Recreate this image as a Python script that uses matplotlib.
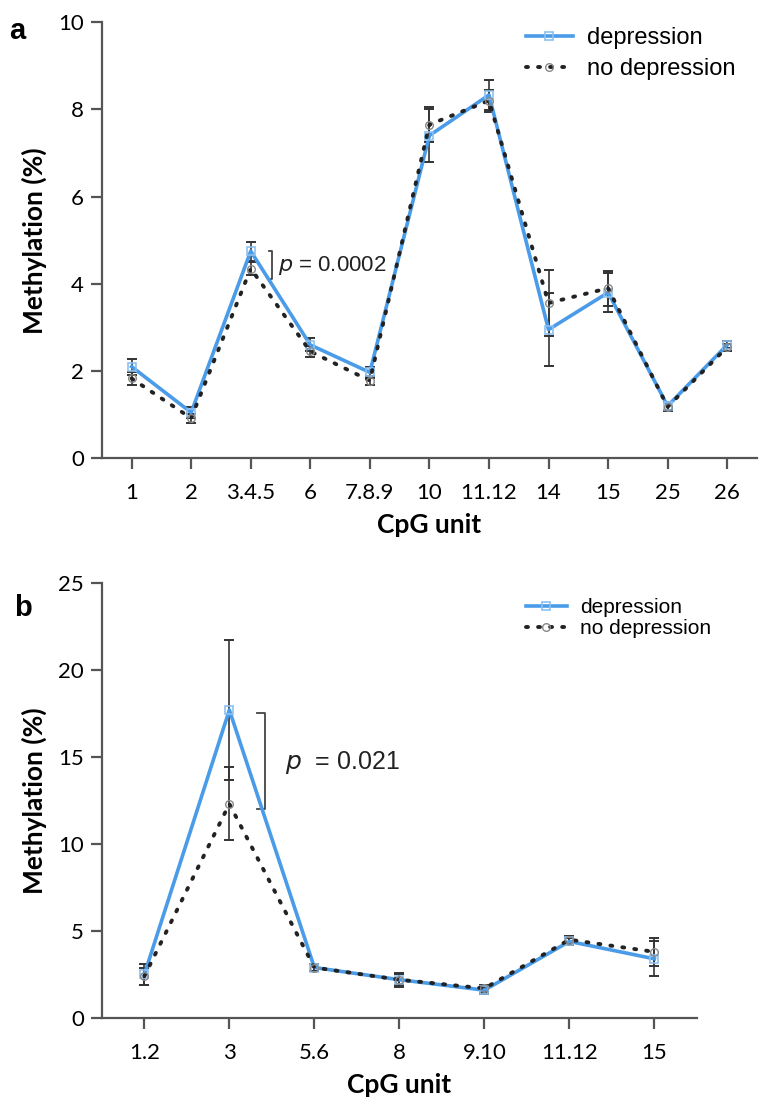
import matplotlib
matplotlib.use("Agg")
import matplotlib.pyplot as plt
import numpy as np

# Panel a data
cpg_a = ["1", "2", "3.4.5", "6", "7.8.9", "10", "11.12", "14", "15", "25", "26"]
dep_a = [2.1, 1.05, 4.75, 2.6, 1.97, 7.4, 8.33, 2.95, 3.8, 1.2, 2.6]
dep_a_err = [0.18, 0.12, 0.22, 0.15, 0.12, 0.6, 0.35, 0.83, 0.45, 0.1, 0.08]
nodep_a = [1.83, 0.92, 4.35, 2.45, 1.78, 7.65, 8.2, 3.56, 3.9, 1.18, 2.55]
nodep_a_err = [0.15, 0.1, 0.15, 0.12, 0.1, 0.4, 0.25, 0.75, 0.4, 0.1, 0.08]

# Panel b data
cpg_b = ["1.2", "3", "5.6", "8", "9.10", "11.12", "15"]
dep_b = [2.5, 17.7, 2.9, 2.2, 1.6, 4.4, 3.4]
dep_b_err = [0.6, 4.0, 0.2, 0.4, 0.2, 0.2, 1.0]
nodep_b = [2.4, 12.3, 2.9, 2.2, 1.7, 4.5, 3.8]
nodep_b_err = [0.5, 2.1, 0.2, 0.3, 0.2, 0.2, 0.8]

BLUE = "#4a9be8"
SPINE = "#555555"
TICKFONT = "Lato"
TXTFONT = "Liberation Sans"

fig = plt.figure(figsize=(7.6, 11.07), dpi=100)

def panel(ax, cats, dep, dep_err, nodep, nodep_err, ylim, yticks, leg_fs, leg_loc, leg_sp):
    x = np.arange(len(cats))
    ax.errorbar(x, nodep, yerr=nodep_err, fmt="none", ecolor="#333333",
                elinewidth=1.2, capsize=3.5, capthick=1.4, zorder=2)
    ax.errorbar(x, dep, yerr=dep_err, fmt="none", ecolor="#333333",
                elinewidth=1.2, capsize=3.5, capthick=1.4, zorder=2)
    ax.plot(x, dep, color=BLUE, lw=2.6, marker="s", ms=6, mfc="none",
            mec="#8cc0f0", mew=1.2, label="depression", zorder=3)
    ax.plot(x, nodep, color="#222222", lw=2.8, ls=(0, (0.5, 2.6)),
            dash_capstyle="round", marker="o", ms=5.5, mfc="none",
            mec="#888888", mew=1.0, label="no depression", zorder=4)
    ax.set_xlim(-0.5, len(cats) - 0.5)
    ax.set_ylim(*ylim)
    ax.set_xticks(x)
    ax.set_xticklabels(cats, fontfamily=TICKFONT, fontsize=16)
    ax.set_yticks(yticks)
    ax.set_yticklabels([str(t) for t in yticks], fontfamily=TICKFONT, fontsize=16)
    for s in ["top", "right"]:
        ax.spines[s].set_visible(False)
    for s in ["left", "bottom"]:
        ax.spines[s].set_color(SPINE)
        ax.spines[s].set_linewidth(1.6)
    ax.tick_params(axis="both", direction="out", length=8, width=1.6,
                   color=SPINE, pad=5)
    ax.tick_params(axis="x", pad=10)
    ax.set_xlabel("CpG unit", fontfamily=TICKFONT, fontsize=19,
                  fontweight="bold", labelpad=7)
    ax.set_ylabel("Methylation (%)", fontfamily=TICKFONT, fontsize=19,
                  fontweight="bold", labelpad=8)
    ax.legend(loc="upper left", bbox_to_anchor=leg_loc, frameon=False,
              prop={"family": TXTFONT, "size": leg_fs},
              handlelength=2.0, handletextpad=0.6, labelspacing=leg_sp,
              borderaxespad=0, borderpad=0.2)
    return x

ax1 = fig.add_axes([0.134, 0.586, 0.862, 0.394])
x1 = panel(ax1, cpg_a, dep_a, dep_a_err, nodep_a, nodep_a_err,
           (0, 10), [0, 2, 4, 6, 8, 10], 17, (0.64, 1.0), 0.4)
# p bracket panel a
bx = x1[2] + 0.36
ax1.plot([bx - 0.06, bx, bx, bx - 0.06], [dep_a[2], dep_a[2], nodep_a[2] - 0.25, nodep_a[2] - 0.25],
         color="#444444", lw=1.3)
ax1.text(bx + 0.1, 4.42, "$\\it{p}$ = 0.0002", fontfamily=TXTFONT, fontsize=16,
         va="center", ha="left", color="#222222")

ax2 = fig.add_axes([0.134, 0.0804, 0.783, 0.393])
x2 = panel(ax2, cpg_b, dep_b, dep_b_err, nodep_b, nodep_b_err,
           (0, 25), [0, 5, 10, 15, 20, 25], 15, (0.705, 0.975), 0.12)
bx = x2[1] + 0.42
ax2.plot([bx - 0.1, bx, bx, bx - 0.1], [dep_b[1] - 0.15, dep_b[1] - 0.15, 12.0, 12.0],
         color="#444444", lw=1.3)
ax2.text(bx + 0.24, 14.7, "$\\it{p}$  = 0.021", fontfamily=TXTFONT, fontsize=18,
         va="center", ha="left", color="#222222")

fig.text(0.012, 0.985, "a", fontfamily=TXTFONT, fontsize=21, fontweight="bold",
         va="top", ha="left")
fig.text(0.018, 0.463, "b", fontfamily=TXTFONT, fontsize=21, fontweight="bold",
         va="top", ha="left")

fig.savefig("out.png", dpi=100)
